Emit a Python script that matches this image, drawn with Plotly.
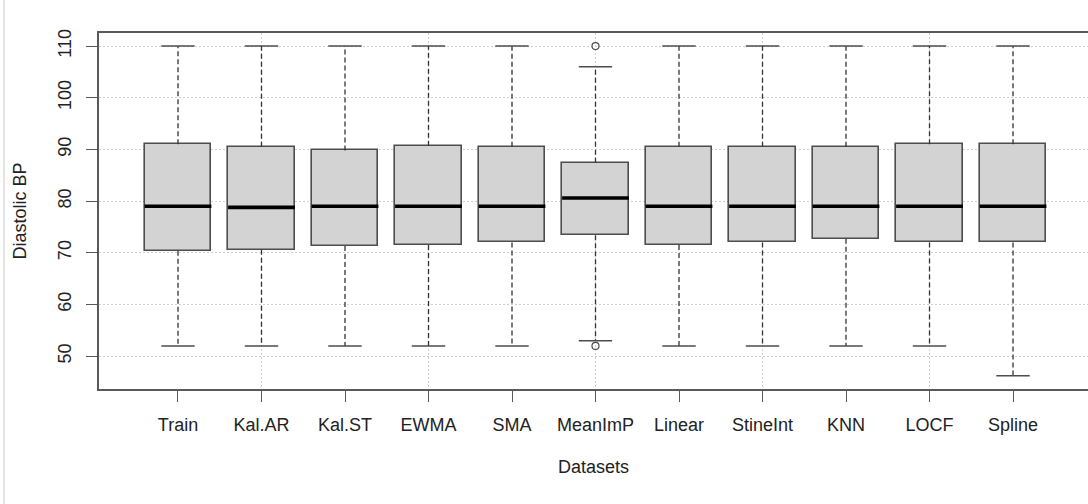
import plotly.graph_objects as go

# ---- data ----
categories = ["Train", "Kal.AR", "Kal.ST", "EWMA", "SMA", "MeanImP",
              "Linear", "StineInt", "KNN", "LOCF", "Spline"]
q1 = [70.4, 70.6, 71.3, 71.5, 72.0, 73.4, 71.5, 72.0, 72.7, 72.0, 72.0]
medians = [79.0, 78.8, 79.0, 79.0, 79.0, 80.6, 79.0, 79.0, 79.0, 79.0, 79.0]
q3 = [91.0, 90.5, 89.8, 90.7, 90.5, 87.4, 90.5, 90.5, 90.5, 91.0, 91.0]
lower_whisker = [52, 52, 52, 52, 52, 53, 52, 52, 52, 52, 46.2]
upper_whisker = [110, 110, 110, 110, 110, 106, 110, 110, 110, 110, 110]
outlier_category = ["MeanImP", "MeanImP"]
outlier_values = [52, 110]

y_ticks = [50, 60, 70, 80, 90, 100, 110]
x_grid = [2, 4, 6, 8, 10]

# ---- styling ----
BOX_HALF = 0.4
CAP_HALF = 0.2
FRAME = "#595959"
TEXT = "#222222"
FONT = "Liberation Sans, Arial, sans-serif"
GRID_DASH = "1.5px,2.5px"

pos = list(range(1, len(categories) + 1))
pos_of = {c: p for c, p in zip(categories, pos)}

def segs(xpairs, ypairs):
    xs, ys = [], []
    for (xa, xb), (ya, yb) in zip(xpairs, ypairs):
        xs += [xa, xb, None]
        ys += [ya, yb, None]
    return xs, ys

fig = go.Figure()

# whiskers (dashed)
wx, wy = segs([(p, p) for p in pos] + [(p, p) for p in pos],
              [(a, b) for a, b in zip(q3, upper_whisker)] +
              [(a, b) for a, b in zip(q1, lower_whisker)])
fig.add_trace(go.Scatter(x=wx, y=wy, mode="lines",
                         line=dict(color="#333333", width=1.3, dash="5px,3px"),
                         hoverinfo="skip", showlegend=False))

# boxes
fig.add_trace(go.Bar(x=pos, base=q1, y=[b - a for a, b in zip(q1, q3)],
                     width=2 * BOX_HALF,
                     marker=dict(color="#d3d3d3", line=dict(color="#4d4d4d", width=1.6)),
                     showlegend=False, hoverinfo="skip"))

# medians
mx, my = segs([(p - BOX_HALF, p + BOX_HALF) for p in pos],
              [(m, m) for m in medians])
fig.add_trace(go.Scatter(x=mx, y=my, mode="lines",
                         line=dict(color="black", width=3.6),
                         hoverinfo="skip", showlegend=False))

# staples
cx, cy = segs([(p - CAP_HALF, p + CAP_HALF) for p in pos] * 2,
              [(v, v) for v in upper_whisker] + [(v, v) for v in lower_whisker])
fig.add_trace(go.Scatter(x=cx, y=cy, mode="lines",
                         line=dict(color="#4d4d4d", width=1.5),
                         hoverinfo="skip", showlegend=False))

# outliers (on overlay axis carrying the x gridlines)
fig.add_trace(go.Scatter(x=[pos_of[c] for c in outlier_category], y=outlier_values,
                         mode="markers", xaxis="x2",
                         marker=dict(symbol="circle-open", size=7,
                                     color="#4d4d4d", line=dict(width=1.2)),
                         hoverinfo="skip", showlegend=False))

x_range = [0.054, 11.898]
y_range = [43.66, 112.52]

fig.update_layout(
    width=1088, height=504,
    margin=dict(l=99, r=0, t=33, b=115.3),
    paper_bgcolor="white", plot_bgcolor="white",
    font=dict(family=FONT, size=18, color=TEXT),
    bargap=0,
    xaxis=dict(
        range=x_range, tickmode="array", tickvals=pos, ticktext=categories,
        ticks="outside", ticklen=11, tickwidth=1.4, tickcolor=FRAME,
        ticklabelstandoff=8,
        showgrid=False, zeroline=False,
        showline=True, linecolor=FRAME, linewidth=1.6, mirror=True,
        title=dict(text="Datasets", standoff=26, font=dict(size=18, color=TEXT)),
        tickfont=dict(size=18, color=TEXT),
    ),
    xaxis2=dict(
        overlaying="x", matches="x", range=x_range,
        tickmode="array", tickvals=x_grid, showticklabels=False, ticks="",
        showgrid=True, gridcolor="#d0d0d0", griddash=GRID_DASH, gridwidth=1,
        zeroline=False, showline=False,
    ),
    yaxis=dict(
        range=y_range, tickmode="array", tickvals=y_ticks,
        tickangle=-90,
        ticks="outside", ticklen=11, tickwidth=1.4, tickcolor=FRAME,
        ticklabelstandoff=8,
        showgrid=True, gridcolor="#d0d0d0", griddash=GRID_DASH, gridwidth=1,
        zeroline=False, showline=True, linecolor=FRAME, linewidth=1.6, mirror=False,
        title=dict(text="Diastolic BP", standoff=24, font=dict(size=18, color=TEXT)),
        tickfont=dict(size=18, color=TEXT),
    ),
    shapes=[dict(type="line", xref="paper", yref="paper",
                 x0=-95 / 989, x1=-95 / 989, y0=-115.3 / 355.7, y1=1 + 33 / 355.7,
                 line=dict(color="#c8c8c8", width=1))],
)

fig.write_html("out.html")
